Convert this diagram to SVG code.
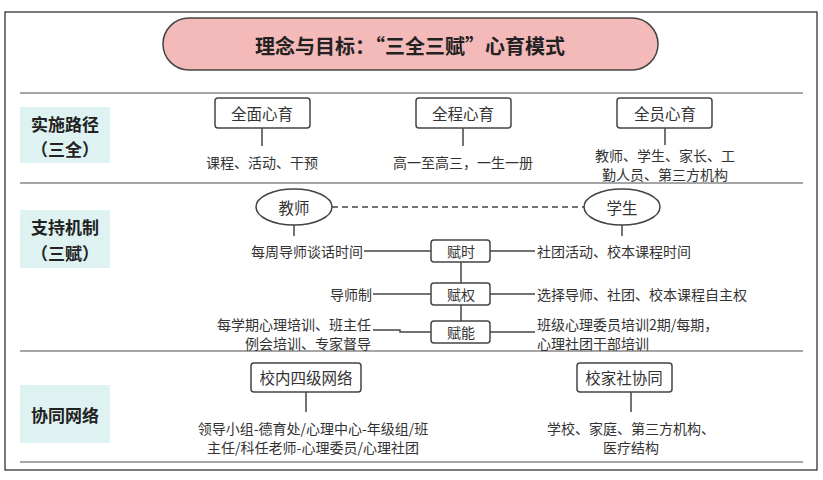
<svg xmlns="http://www.w3.org/2000/svg" width="823" height="480" viewBox="0 0 823 480">
<style>
text{font-family:"Noto Sans CJK SC","Noto Sans",sans-serif;fill:#333;text-anchor:middle;dominant-baseline:central}
.t{font-size:14px}
.b{font-size:15.5px}
.lab{font-size:17px;font-weight:bold;fill:#222}
.box{fill:#fff;stroke:#444;stroke-width:1.5}
.ln{stroke:#444;stroke-width:1.5;fill:none}
.sep{stroke:#888;stroke-width:1.5}
.cy{fill:#dff2f2}
</style>
<rect x="0" y="0" width="823" height="480" fill="#fff"/>
<rect x="5" y="12" width="812" height="458" fill="#fff" stroke="#222" stroke-width="1.2"/>
<g id="title"><rect x="163" y="18" width="495" height="52" rx="26" fill="#f4b9b9" stroke="#444" stroke-width="1.5"/><text x="410" y="45" style="font-size:20px;font-weight:bold;fill:#222">理念与目标：“三全三赋”心育模式</text></g>
<g id="separators"><line class="sep" x1="20" y1="93" x2="803" y2="93"/><line class="sep" x1="20" y1="183" x2="803" y2="183"/><line class="sep" x1="20" y1="351" x2="803" y2="351"/><line class="sep" x1="20" y1="462" x2="803" y2="462"/></g>
<g id="label1"><rect class="cy" x="20" y="107" width="90" height="56"/><text class="lab" x="65" y="123">实施路径</text><text class="lab" x="65" y="148">（三全）</text></g>
<g id="label2"><rect class="cy" x="20" y="210" width="90" height="58"/><text class="lab" x="65" y="226">支持机制</text><text class="lab" x="65" y="252">（三赋）</text></g>
<g id="label3"><rect class="cy" x="20" y="385" width="90" height="58"/><text class="lab" x="65" y="414">协同网络</text></g>
<g id="connectors">
<line class="ln" x1="262" y1="128" x2="262" y2="146"/>
<line class="ln" x1="463" y1="128" x2="463" y2="146"/>
<line class="ln" x1="665" y1="128" x2="665" y2="145"/>
<line class="ln" x1="332" y1="207" x2="584" y2="207" stroke-dasharray="6,4"/>
<line class="ln" x1="294" y1="225" x2="294" y2="236"/>
<line class="ln" x1="622" y1="225" x2="622" y2="236"/>
<line class="ln" x1="461" y1="262" x2="461" y2="321"/>
<line class="ln" x1="364" y1="251" x2="431" y2="251"/>
<line class="ln" x1="490" y1="251" x2="535" y2="251"/>
<line class="ln" x1="373" y1="294" x2="431" y2="294"/>
<line class="ln" x1="490" y1="294" x2="535" y2="294"/>
<polyline class="ln" points="373,330 400,330 400,332 431,332"/>
<line class="ln" x1="490" y1="332" x2="535" y2="332"/>
<line class="ln" x1="306" y1="392" x2="306" y2="412"/>
<line class="ln" x1="631" y1="392" x2="631" y2="412"/>
</g>
<g id="n1"><rect class="box" x="215" y="98" width="95" height="30" rx="3"/><text class="b" x="262" y="113">全面心育</text><text class="t" x="262" y="162">课程、活动、干预</text></g>
<g id="n2"><rect class="box" x="416" y="98" width="95" height="30" rx="3"/><text class="b" x="463" y="113">全程心育</text><text class="t" x="463" y="162">高一至高三，一生一册</text></g>
<g id="n3"><rect class="box" x="617" y="98" width="95" height="30" rx="3"/><text class="b" x="665" y="113">全员心育</text><text class="t" x="665" y="155">教师、学生、家长、工</text><text class="t" x="665" y="174">勤人员、第三方机构</text></g>
<g id="teacher"><ellipse class="box" cx="294" cy="207" rx="38" ry="18"/><text class="b" x="294" y="207">教师</text></g>
<g id="student"><ellipse class="box" cx="622" cy="207" rx="38" ry="18"/><text class="b" x="622" y="207">学生</text></g>
<g id="fushi"><rect class="box" x="431" y="240" width="59" height="22" rx="3"/><text class="t" x="461" y="251">赋时</text><text class="t" x="363" y="251" style="text-anchor:end">每周导师谈话时间</text><text class="t" x="537" y="251" style="text-anchor:start">社团活动、校本课程时间</text></g>
<g id="fuquan"><rect class="box" x="431" y="283" width="59" height="22" rx="3"/><text class="t" x="461" y="294">赋权</text><text class="t" x="372" y="294" style="text-anchor:end">导师制</text><text class="t" x="537" y="294" style="text-anchor:start">选择导师、社团、校本课程自主权</text></g>
<g id="funeng"><rect class="box" x="431" y="321" width="59" height="22" rx="3"/><text class="t" x="461" y="332">赋能</text><text class="t" x="371" y="324" style="text-anchor:end">每学期心理培训、班主任</text><text class="t" x="371" y="343" style="text-anchor:end">例会培训、专家督导</text><text class="t" x="537" y="324" style="text-anchor:start">班级心理委员培训2期/每期，</text><text class="t" x="537" y="343" style="text-anchor:start">心理社团干部培训</text></g>
<g id="n4"><rect class="box" x="251" y="363" width="110" height="29" rx="3"/><text class="b" x="306" y="377">校内四级网络</text><text class="t" x="313" y="428">领导小组-德育处/心理中心-年级组/班</text><text class="t" x="313" y="447">主任/科任老师-心理委员/心理社团</text></g>
<g id="n5"><rect class="box" x="577" y="363" width="95" height="29" rx="3"/><text class="b" x="624" y="377">校家社协同</text><text class="t" x="631" y="428">学校、家庭、第三方机构、</text><text class="t" x="631" y="447">医疗结构</text></g>
</svg>
